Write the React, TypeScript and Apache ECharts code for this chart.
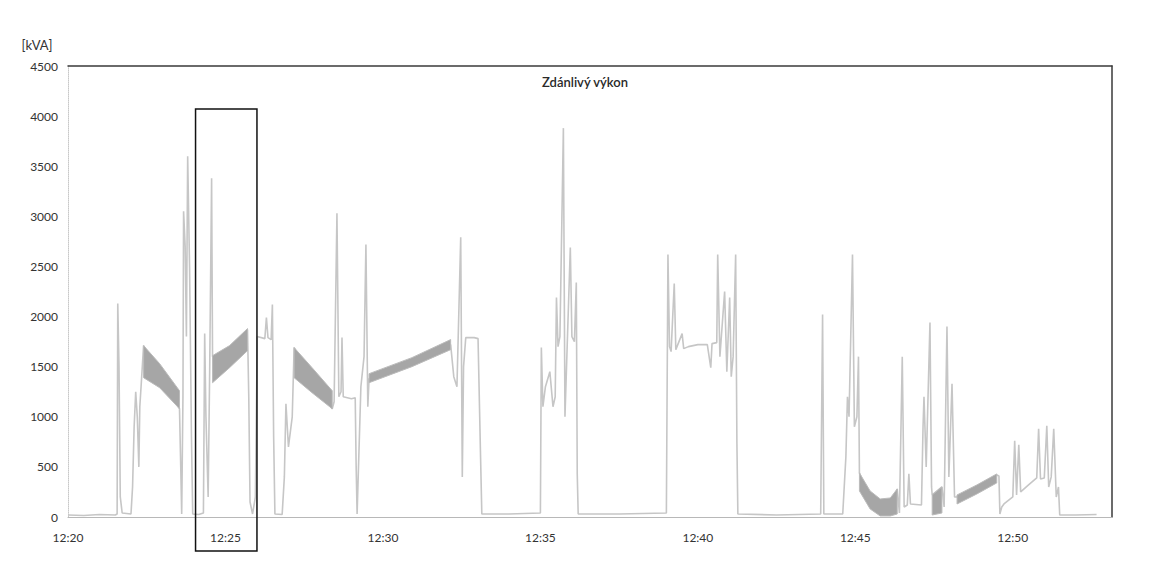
import React, { useEffect, useRef } from "react";
import * as echarts from "echarts";

// Minutes after 12:20 and apparent power [kVA]
const trace: [number, number][] = [
  [0, 20], [0.5, 15], [1.0, 25], [1.5, 20], [1.56, 30], [1.58, 2130], [1.62, 1500], [1.66, 200], [1.72, 40],
  [2.0, 30], [2.05, 300], [2.10, 900], [2.15, 1250], [2.20, 1000], [2.25, 500], [2.28, 1100], [2.33, 1350], [2.40, 1710],
  [2.91, 1400], [3.54, 1080], [3.58, 500], [3.61, 30], [3.65, 1200], [3.67, 3050], [3.72, 2700], [3.76, 1800], [3.80, 3600],
  [3.86, 2500], [3.92, 800], [3.96, 30], [4.15, 25], [4.30, 40], [4.34, 1830], [4.38, 1000], [4.45, 200],
  [4.50, 1500], [4.56, 3380], [4.59, 1600], [5.13, 1600],
  [5.70, 1870], [5.74, 1200], [5.78, 150], [5.86, 30], [5.95, 200], [6.01, 1800], [6.25, 1780], [6.30, 1990],
  [6.35, 1790], [6.45, 1770], [6.49, 2120], [6.53, 800], [6.57, 30], [6.80, 25], [6.87, 400], [6.92, 1130],
  [7.0, 700], [7.08, 900], [7.12, 1000], [7.18, 1690], [7.75, 1360],
  [8.39, 1080], [8.45, 1150], [8.54, 3030], [8.60, 1200], [8.67, 1250], [8.70, 1790], [8.74, 1200], [9.0, 1180],
  [9.12, 1190], [9.15, 500], [9.18, 30], [9.30, 1300], [9.40, 1600], [9.46, 2720], [9.52, 1100], [9.56, 1380],
  [10.92, 1540], [12.15, 1720], [12.25, 1400], [12.35, 1300], [12.47, 2790], [12.52, 400], [12.56, 1500],
  [12.63, 1790], [12.9, 1790], [13.02, 1780], [13.10, 600], [13.14, 30], [14.0, 30], [15.0, 40],
  [15.03, 1690], [15.08, 1100], [15.16, 1300], [15.3, 1450], [15.4, 1100], [15.47, 1200], [15.51, 2190],
  [15.56, 1700], [15.62, 1800], [15.73, 3880], [15.78, 1000], [15.85, 1700], [15.95, 2690], [16.0, 1800],
  [16.08, 1750], [16.14, 2340], [16.17, 430], [16.20, 30],
  [17.5, 30], [19.0, 40], [19.05, 2620], [19.10, 1700], [19.15, 1650], [19.25, 2330], [19.3, 1670],
  [19.5, 1830], [19.55, 1680], [19.7, 1700], [20.0, 1720], [20.3, 1720], [20.41, 1490], [20.45, 1730],
  [20.6, 1740], [20.63, 2620], [20.70, 1600], [20.85, 2250], [20.92, 1450], [21.01, 2190], [21.06, 1400],
  [21.12, 1600], [21.20, 2620], [21.24, 730], [21.27, 30],
  [22.5, 20], [23.9, 30], [23.96, 2020], [24.0, 30], [24.6, 30], [24.70, 600], [24.75, 1200], [24.80, 1000],
  [24.91, 2620], [24.97, 900], [25.05, 1000], [25.10, 1600], [25.13, 440],
  [25.47, 170], [25.79, 100], [26.11, 100],
  [26.33, 280], [26.40, 40], [26.49, 1600], [26.55, 100], [26.65, 120], [26.70, 430], [26.75, 130],
  [27.1, 120], [27.15, 900], [27.18, 1200], [27.25, 500], [27.37, 1940], [27.42, 300], [27.44, 220],
  [27.75, 300], [27.82, 100], [27.91, 1900], [27.97, 400], [28.07, 1330], [28.15, 200], [28.23, 200],
  [29.49, 420], [29.56, 410], [29.59, 30], [29.65, 100], [29.72, 130], [30.0, 200], [30.06, 760],
  [30.12, 220], [30.19, 720], [30.25, 250], [30.5, 320], [30.76, 390], [30.82, 880], [30.88, 380],
  [31.0, 390], [31.08, 910], [31.14, 300], [31.22, 400], [31.30, 880], [31.38, 200], [31.45, 300],
  [31.49, 20], [32.0, 20], [32.66, 25],
];

// Fast-oscillation bands (envelopes)
const bandA = { t: [2.40, 2.91, 3.54], hi: [1710, 1530, 1260], lo: [1390, 1290, 1080] };
const bandB = { t: [4.59, 5.13, 5.70], hi: [1610, 1710, 1880], lo: [1340, 1490, 1660] };
const bandC = { t: [7.18, 7.75, 8.39], hi: [1690, 1490, 1260], lo: [1390, 1240, 1080] };
const bandD = { t: [9.56, 10.92, 12.15], hi: [1430, 1590, 1770], lo: [1340, 1500, 1670] };
const bandE = { t: [25.13, 25.47, 25.79, 26.11, 26.33], hi: [440, 260, 180, 190, 280], lo: [260, 80, 10, 10, 30] };
const bandF = { t: [27.44, 27.75], hi: [220, 300], lo: [20, 40] };
const bandG = { t: [28.23, 28.86, 29.49], hi: [220, 320, 430], lo: [130, 230, 340] };
const bands = [bandA, bandB, bandC, bandD, bandE, bandF, bandG];

// Highlight box: [minute, kVA] corners
const boxFrom: [number, number] = [4.05, 4070];
const boxTo: [number, number] = [6.0, -340];

const yTicks = { min: 0, max: 4500, step: 500 };
const xTicks = { min: 0, max: 33.15, step: 5 };
const titleText = "Zdánlivý výkon";
const unitText = "[kVA]";

const FONT = "Lato, 'Open Sans', sans-serif";

export default function App() {
  const ref = useRef<HTMLDivElement>(null);
  useEffect(() => {
    if (!ref.current) return;
    const chart = echarts.init(ref.current, undefined, { renderer: "svg" });
    const fmt = (v: number) => {
      if (Math.abs(v % 5) > 1e-6) return "";
      const m = 20 + v;
      return "12:" + String(m).padStart(2, "0");
    };
    chart.setOption({
      animation: false,
      backgroundColor: "#ffffff",
      grid: { left: 68, right: 38, top: 66, bottom: 44, containLabel: false },
      xAxis: [
        {
          type: "value",
          min: xTicks.min,
          max: xTicks.max,
          interval: xTicks.step,
          axisLine: { show: true, onZero: false, lineStyle: { color: "#b8b8b8", width: 1 } },
          axisTick: { show: false },
          splitLine: { show: false },
          axisLabel: {
            formatter: fmt,
            color: "#333",
            fontFamily: FONT,
            fontSize: 12,
            margin: 14,
            showMaxLabel: false,
          },
        },
        {
          type: "value",
          position: "top",
          min: xTicks.min,
          max: xTicks.max,
          axisLine: { show: true, onZero: false, lineStyle: { color: "#3a3a3a", width: 1.5 } },
          axisTick: { show: false },
          axisLabel: { show: false },
          splitLine: { show: false },
        },
      ],
      yAxis: [
        {
          type: "value",
          min: yTicks.min,
          max: yTicks.max,
          interval: yTicks.step,
          axisLine: { show: true, onZero: false, lineStyle: { color: "#c8c8c8", width: 1, type: "dotted" } },
          axisTick: { show: false },
          splitLine: { show: false },
          axisLabel: {
            color: "#333",
            fontFamily: FONT,
            fontSize: 12,
            margin: 10,
            formatter: (v: number) => String(v),
          },
        },
        {
          type: "value",
          position: "right",
          min: yTicks.min,
          max: yTicks.max,
          axisLine: { show: true, onZero: false, lineStyle: { color: "#3a3a3a", width: 1.5 } },
          axisTick: { show: false },
          axisLabel: { show: false },
          splitLine: { show: false },
        },
      ],
      series: [
        {
          type: "custom",
          name: "bands",
          xAxisIndex: 0,
          yAxisIndex: 0,
          data: bands.map((b) => [b.t[0], b.hi[0]]),
          renderItem: (params: any, api: any) => {
            const b = bands[params.dataIndex];
            const pts: number[][] = [];
            for (let i = 0; i < b.t.length; i++) pts.push(api.coord([b.t[i], b.hi[i]]));
            for (let i = b.t.length - 1; i >= 0; i--) pts.push(api.coord([b.t[i], b.lo[i]]));
            return {
              type: "polygon",
              shape: { points: pts },
              style: { fill: "#a6a6a6", stroke: "#bbbbbb", lineWidth: 1 },
            };
          },
          z: 3,
        },
        {
          type: "line",
          name: "S",
          xAxisIndex: 0,
          yAxisIndex: 0,
          data: trace,
          showSymbol: false,
          symbol: "none",
          lineStyle: { color: "#c6c6c6", width: 1.6 },
          z: 2,
        },
      ],
    });

    const p1 = chart.convertToPixel({ gridIndex: 0 }, boxFrom) as number[];
    const p2 = chart.convertToPixel({ gridIndex: 0 }, boxTo) as number[];
    const gridModel: any = (chart as any).getModel().getComponent("grid", 0);
    const rect = gridModel.coordinateSystem.getRect();
    chart.setOption({
      graphic: [
        {
          type: "text",
          x: rect.x + rect.width / 2 - 5,
          y: 82,
          style: {
            text: titleText,
            fontFamily: FONT,
            fontSize: 13,
            fontWeight: 600,
            fill: "#2a2a2a",
            textAlign: "center",
            textVerticalAlign: "middle",
          },
        },
        {
          type: "text",
          x: 37,
          y: 45,
          style: {
            text: unitText,
            fontFamily: FONT,
            fontSize: 13,
            fill: "#333",
            textAlign: "center",
            textVerticalAlign: "middle",
          },
        },
        {
          type: "rect",
          shape: {
            x: Math.min(p1[0], p2[0]),
            y: Math.min(p1[1], p2[1]),
            width: Math.abs(p2[0] - p1[0]),
            height: Math.abs(p2[1] - p1[1]),
          },
          style: { fill: "none", stroke: "#111", lineWidth: 1.5 },
          z: 100,
        },
      ],
    });
    return () => chart.dispose();
  }, []);
  return (
    <div
      ref={ref}
      style={{ position: "fixed", left: 0, top: 0, width: 1150, height: 561 }}
    />
  );
}
